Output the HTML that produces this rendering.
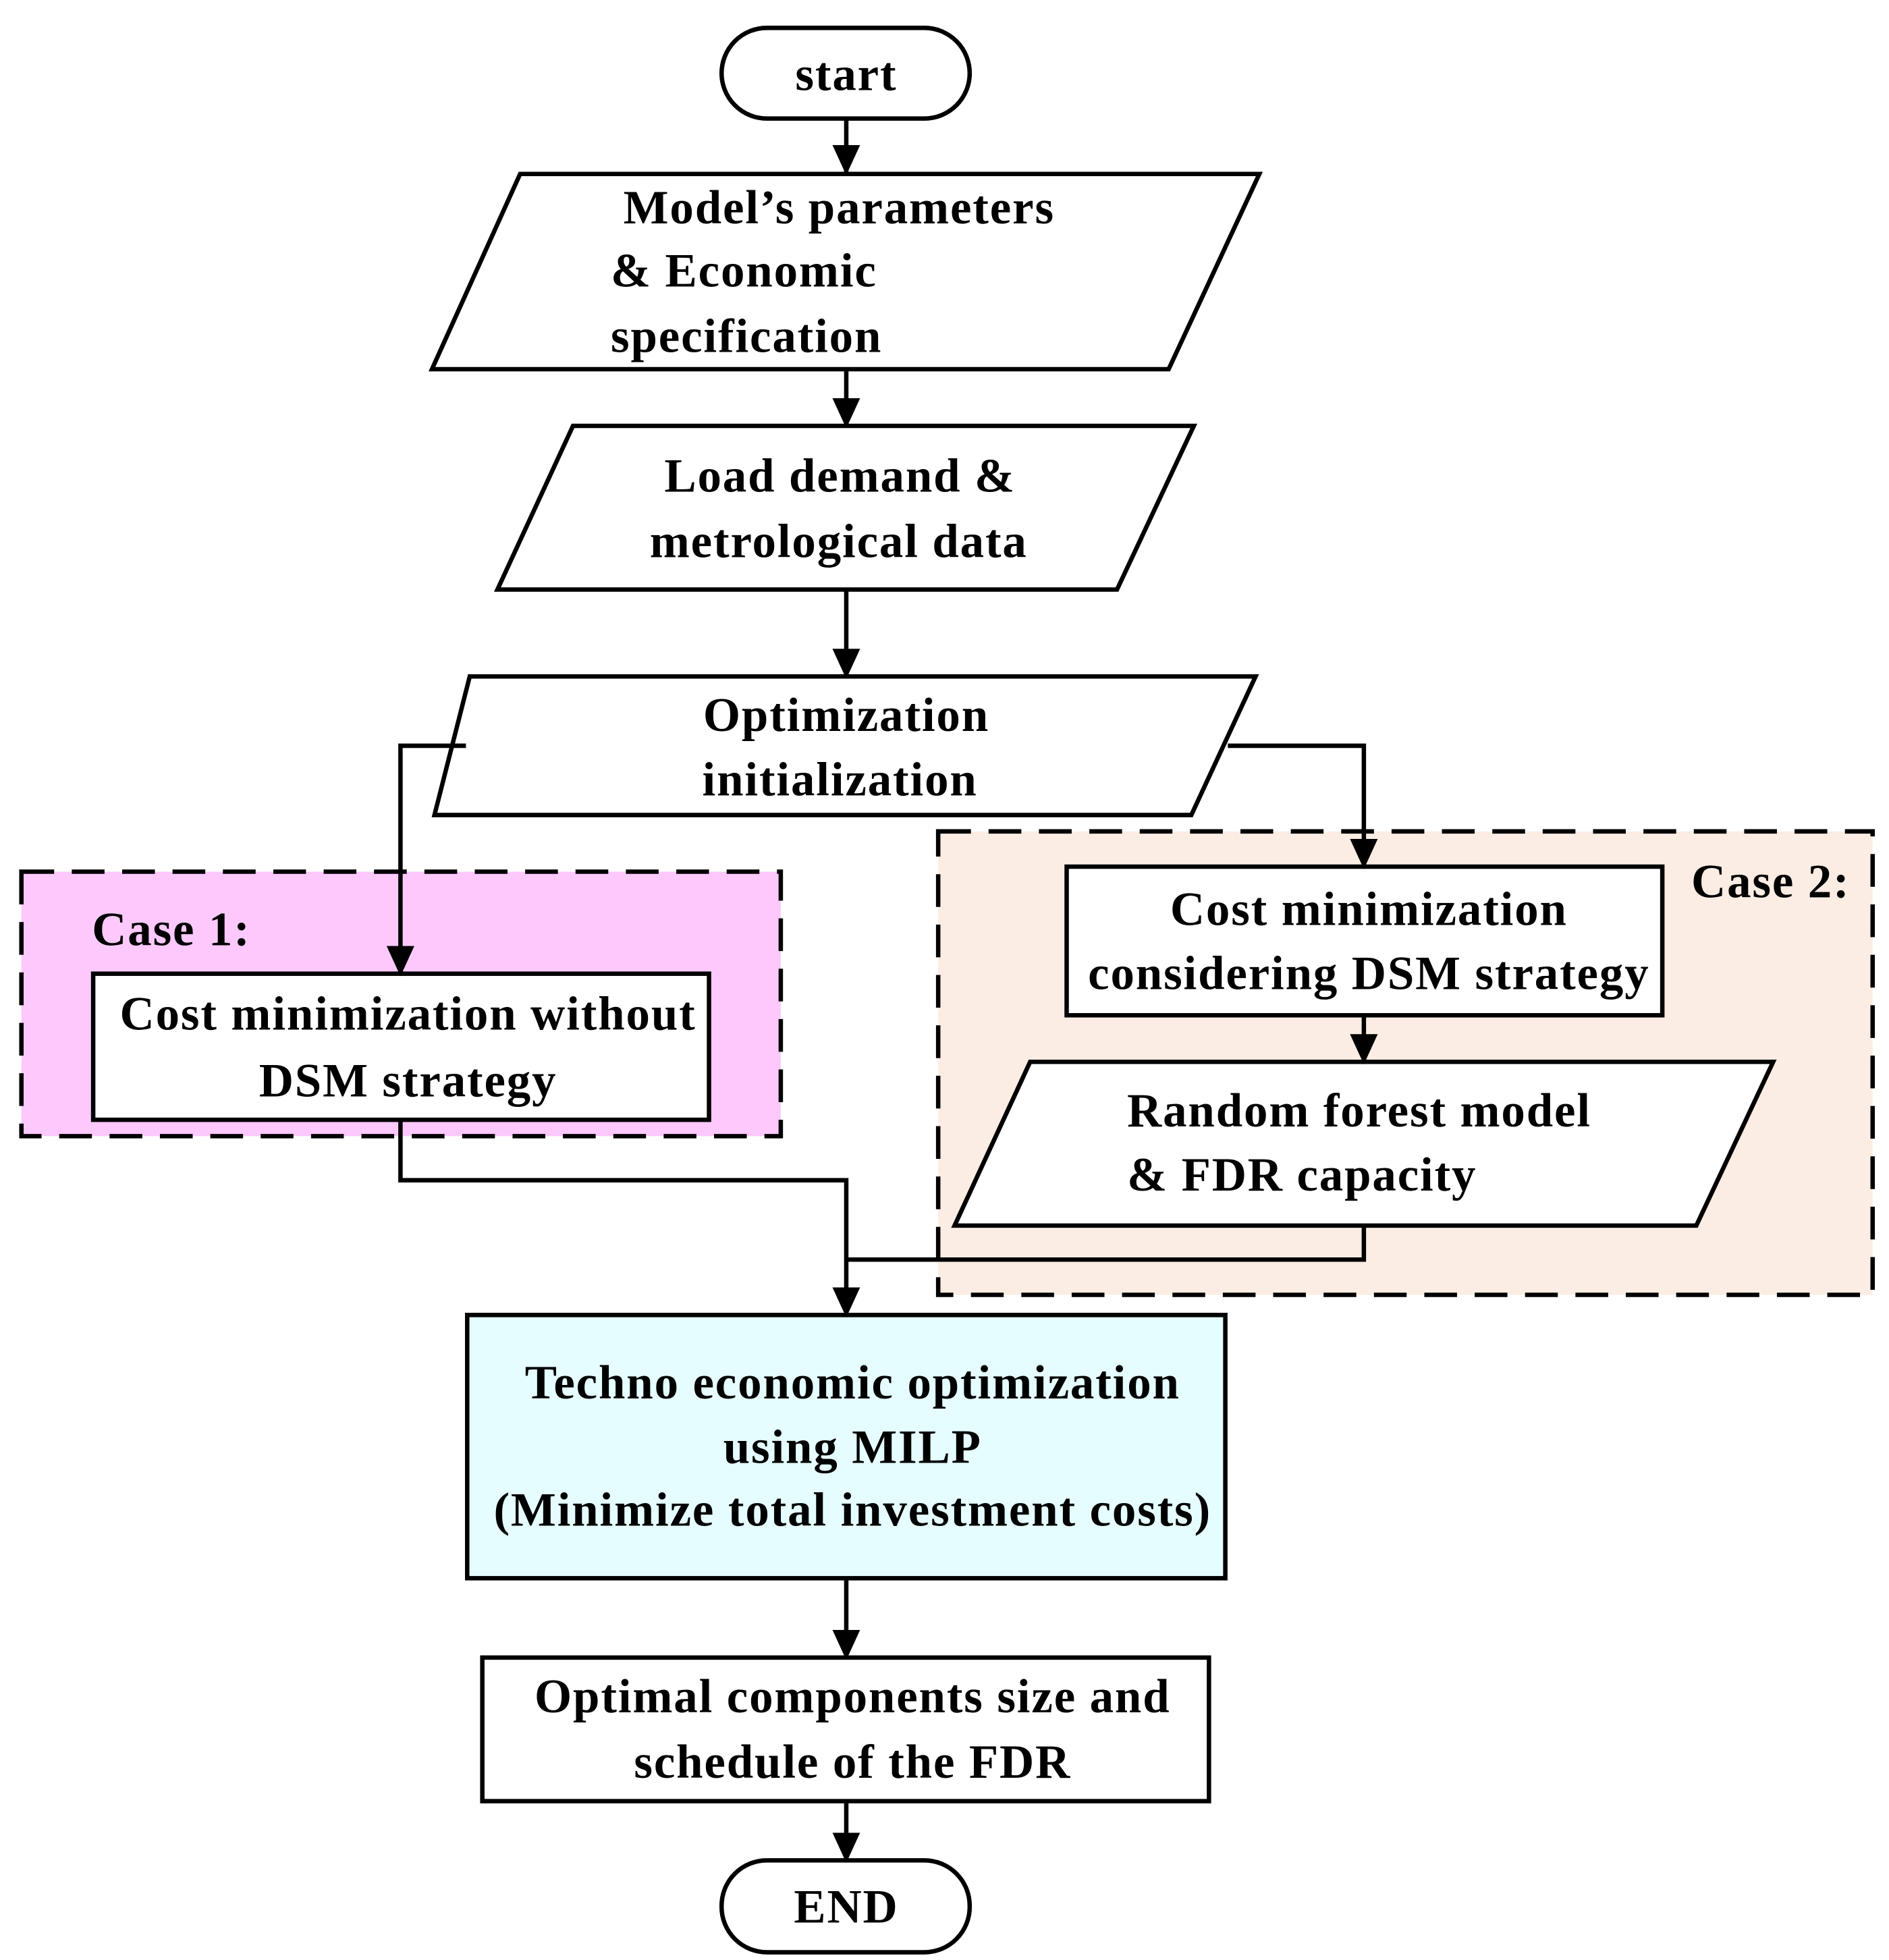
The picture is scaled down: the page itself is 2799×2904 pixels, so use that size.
<!DOCTYPE html>
<html><head><meta charset="utf-8"><style>
html,body{margin:0;padding:0;background:#fff;}
svg{display:block;}
text{font-family:"Liberation Serif",serif;font-weight:bold;font-size:38px;letter-spacing:1px;fill:#000;dominant-baseline:central;}
</style></head><body>
<svg width="2799" height="2904" viewBox="0 0 1500 1556" xmlns="http://www.w3.org/2000/svg">
<defs>
<marker id="b" viewBox="0 0 24 24" refX="22" refY="12" markerWidth="24" markerHeight="24" orient="auto" markerUnits="userSpaceOnUse"><path d="M0,1 L24,12 L0,23 z" fill="#000"/></marker></defs>
<g stroke="#000" stroke-width="3.5" fill="none">
<rect x="17" y="692" width="603" height="210" fill="#fdc9fd" stroke-dasharray="26,14"/>
<rect x="745" y="660" width="742" height="368" fill="#fbede3" stroke-dasharray="26,14"/>
<rect x="573" y="22" width="197" height="72" rx="36" fill="#fff"/>
<polygon points="413,138 1000,138 928,293 343,293" fill="#fff"/>
<polygon points="455,338 948,338 887,468 395,468" fill="#fff"/>
<polygon points="373,537 997,537 946,647 345,647" fill="#fff"/>
<rect x="74" y="773" width="489" height="116" fill="#fff"/>
<rect x="847" y="688" width="473" height="118" fill="#fff"/>
<polygon points="818,843 1408,843 1347,973 758,973" fill="#fff"/>
<rect x="371" y="1044" width="602" height="209" fill="#e5fdfe"/>
<rect x="383" y="1316" width="577" height="114" fill="#fff"/>
<rect x="573" y="1477" width="197" height="73" rx="36" fill="#fff"/>
<path d="M672,94 V137" marker-end="url(#b)"/>
<path d="M672,293 V338" marker-end="url(#b)"/>
<path d="M672,468 V537" marker-end="url(#b)"/>
<path d="M370,592 H318 V773" marker-end="url(#b)"/>
<path d="M975,592 H1083 V688" marker-end="url(#b)"/>
<path d="M1083,806 V843" marker-end="url(#b)"/>
<path d="M1083,973 V1000 H672"/>
<path d="M318,889 V937 H672 V1044" marker-end="url(#b)"/>
<path d="M672,1253 V1316" marker-end="url(#b)"/>
<path d="M672,1430 V1477" marker-end="url(#b)"/>
</g>
<text x="672" y="59" text-anchor="middle">start</text>
<text x="495" y="165">Model’s parameters</text>
<text x="485" y="215">&amp; Economic</text>
<text x="485" y="267">specification</text>
<text x="667" y="378" text-anchor="middle">Load demand &amp;</text>
<text x="666" y="430" text-anchor="middle">metrological data</text>
<text x="672" y="568" text-anchor="middle">Optimization</text>
<text x="667" y="619" text-anchor="middle">initialization</text>
<text x="73" y="738">Case 1:</text>
<text x="324" y="805" text-anchor="middle">Cost minimization without</text>
<text x="324" y="858" text-anchor="middle">DSM strategy</text>
<text x="1343" y="700">Case 2:</text>
<text x="1087" y="722" text-anchor="middle">Cost minimization</text>
<text x="1087" y="773" text-anchor="middle">considering DSM strategy</text>
<text x="895" y="882">Random forest model</text>
<text x="895" y="933">&amp; FDR capacity</text>
<text x="677" y="1098" text-anchor="middle">Techno economic optimization</text>
<text x="677" y="1149" text-anchor="middle">using MILP</text>
<text x="677" y="1199" text-anchor="middle">(Minimize total investment costs)</text>
<text x="677" y="1347" text-anchor="middle">Optimal components size and</text>
<text x="677" y="1399" text-anchor="middle">schedule of the FDR</text>
<text x="672" y="1514" text-anchor="middle">END</text>
</svg>
</body></html>
